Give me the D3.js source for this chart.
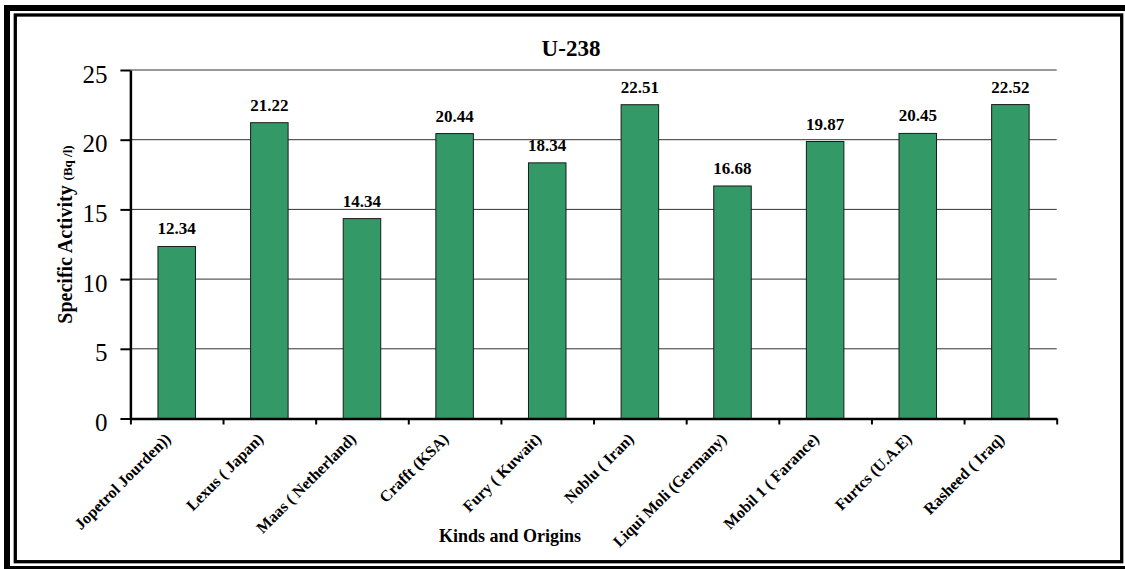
<!DOCTYPE html>
<html>
<head>
<meta charset="utf-8">
<script src="https://cdn.jsdelivr.net/npm/d3@7"></script>
<style>
  html, body { margin: 0; padding: 0; background: #fff; }
  svg { display: block; }
  text { font-family: "Liberation Serif", "Times New Roman", serif; fill: #000; }
</style>
</head>
<body>
<svg id="chart" width="1125" height="569"></svg>
<script>
const categories = [
  "Jopetrol Jourden))", "Lexus ( Japan)", "Maas ( Netherland)", "Crafft (KSA)",
  "Fury ( Kuwait)", "Noblu ( Iran)", "Liqui Moli (Germany)", "Mobil 1 ( Farance)",
  "Furtcs (U.A.E)", "Rasheed ( Iraq)"
];
const values = [12.34, 21.22, 14.34, 20.44, 18.34, 22.51, 16.68, 19.87, 20.45, 22.52];
const valueLabels = ["12.34", "21.22", "14.34", "20.44", "18.34", "22.51", "16.68", "19.87", "20.45", "22.52"];
const yTicks = [0, 5, 10, 15, 20, 25];
const title = "U-238";
const xTitle = "Kinds and Origins";
const yTitleMain = "Specific Activity ";
const yTitleUnit = "(Bq /l)";

const svg = d3.select("#chart");

// frames
svg.append("rect").attr("x", 7).attr("y", 8).attr("width", 1130).attr("height", 561)
  .attr("fill", "none").attr("stroke", "#000").attr("stroke-width", 6);
svg.append("rect").attr("x", 15.3).attr("y", 15).attr("width", 1106.4).attr("height", 546.7)
  .attr("fill", "#fff").attr("stroke", "#000").attr("stroke-width", 3.3);

const plot = { left: 130.4, right: 1056.7, top: 70, bottom: 418.5 };

const x = d3.scaleBand().domain(categories).range([plot.left, plot.right]).padding(0);
const xEdge = d3.scaleLinear().domain([0, categories.length]).range([plot.left, plot.right]);
const y = d3.scaleLinear().domain([0, 25]).range([plot.bottom, plot.top]);

// gridlines
svg.append("g").selectAll("line").data(yTicks.filter(t => t > 0)).join("line")
  .attr("x1", plot.left).attr("x2", plot.right)
  .attr("y1", d => y(d)).attr("y2", d => y(d))
  .attr("stroke", "#333").attr("stroke-width", 1);

// bars
const barW = x.bandwidth() * 0.405;
svg.append("g").selectAll("rect").data(values).join("rect")
  .attr("x", (d, i) => x(categories[i]) + (x.bandwidth() - barW) / 2)
  .attr("y", d => y(d))
  .attr("width", barW)
  .attr("height", d => y(0) - y(d))
  .attr("fill", "#339966")
  .attr("stroke", "#1a1a1a")
  .attr("stroke-width", 1);

// value labels
svg.append("g").selectAll("text").data(values).join("text")
  .attr("x", (d, i) => x(categories[i]) + x.bandwidth() / 2)
  .attr("y", d => y(d) - 12)
  .attr("text-anchor", "middle")
  .style("font-size", "17px").style("font-weight", "bold")
  .text((d, i) => valueLabels[i]);

// y axis
const yAxis = svg.append("g").attr("transform", `translate(${plot.left},0)`)
  .call(d3.axisLeft(y).tickValues(yTicks).tickSize(10).tickSizeOuter(0).tickPadding(13));
yAxis.select(".domain").attr("stroke", "#000").attr("stroke-width", 2.5);
yAxis.selectAll(".tick line").attr("stroke", "#000").attr("stroke-width", 2);
yAxis.selectAll(".tick text").attr("dy", "0.48em")
  .style("font-size", "25px").style("font-family", "'Liberation Serif', 'Times New Roman', serif").attr("fill", "#000");

// x axis (ticks at category boundaries)
const xAxis = svg.append("g").attr("transform", `translate(0,${plot.bottom})`)
  .call(d3.axisBottom(xEdge).tickValues(d3.range(categories.length + 1)).tickSize(6).tickSizeOuter(0).tickFormat(""));
xAxis.select(".domain").attr("stroke", "#000").attr("stroke-width", 2.5);
xAxis.selectAll(".tick line").attr("stroke", "#000").attr("stroke-width", 2);

// category labels
svg.append("g").selectAll("text").data(categories).join("text")
  .attr("transform", d => `translate(${x(d) + x.bandwidth() / 2 - 5},440) rotate(-45)`)
  .attr("text-anchor", "end")
  .style("font-size", "16px").style("font-weight", "bold")
  .text(d => d);

// title
svg.append("text").attr("x", 571).attr("y", 56).attr("text-anchor", "middle")
  .style("font-size", "23px").style("font-weight", "bold").text(title);

// x title
svg.append("text").attr("x", 510).attr("y", 542).attr("text-anchor", "middle")
  .style("font-size", "18px").style("font-weight", "bold").text(xTitle);

// y title
const yt = svg.append("text").attr("transform", "translate(72,234.5) rotate(-90)")
  .attr("text-anchor", "middle").style("font-weight", "bold");
yt.append("tspan").style("font-size", "20px").text(yTitleMain);
yt.append("tspan").style("font-size", "13px").text(yTitleUnit);
</script>
</body>
</html>
